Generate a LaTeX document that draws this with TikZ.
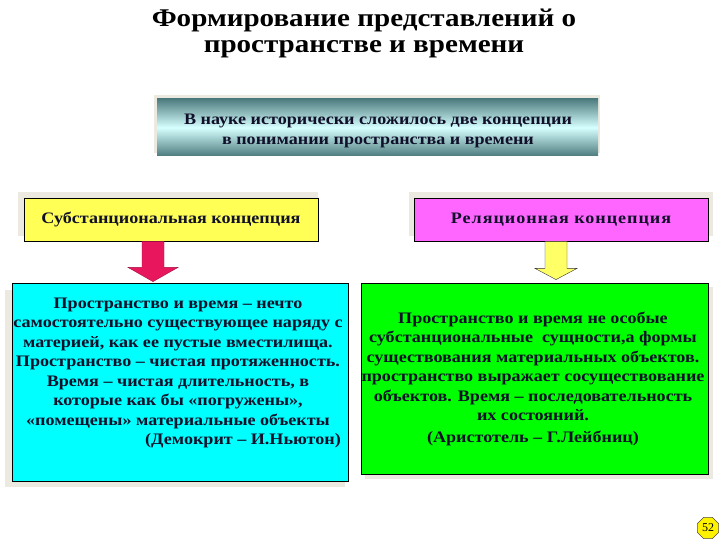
\documentclass[tikz,border=0pt]{standalone}
\usepackage{fontspec}
\setmainfont{Liberation Serif}
\newfontfamily\titlefont[FakeStretch=1.14]{Liberation Serif}
\newfontfamily\bodyfont[FakeStretch=1.13]{Liberation Serif}
\newfontfamily\widefont[FakeStretch=1.13,LetterSpace=6]{Liberation Serif}
\usetikzlibrary{shapes.geometric,calc}
\definecolor{txt}{HTML}{10102A}
\definecolor{shadowc}{HTML}{ECE9E0}
\definecolor{yel}{HTML}{FFFF55}
\definecolor{pinkc}{HTML}{FF66FF}
\definecolor{cyanc}{HTML}{00FFFF}
\definecolor{greenc}{HTML}{00FF00}
\definecolor{redarr}{HTML}{E8175D}
\definecolor{yelarr}{HTML}{FFFF66}
\definecolor{tealdark}{HTML}{4E7C7E}
\definecolor{teallight}{HTML}{D6FFFF}
\tikzset{
  box/.style={draw=black, line width=0.8pt, inner sep=0pt},
  bodytext/.style={font=\bodyfont\bfseries\fontsize{16}{19.5}\selectfont, text=txt, align=center, inner sep=0pt},
  headtext/.style={font=\bodyfont\bfseries\fontsize{16}{19}\selectfont, text=txt, inner sep=0pt},
  titletext/.style={font=\titlefont\bfseries\fontsize{25.5}{25.5}\selectfont, inner sep=0pt},
  blockarrow/.style={line width=0.4pt},
}
\begin{document}
\begin{tikzpicture}[x=1pt,y=-1pt]
\useasboundingbox (0,0) rectangle (720,540);
% title
\node[titletext] (title1) at (364,20.5) {Формирование представлений о};
\node[titletext] (title2) at (364,49.5) {пространстве и времени};
% banner
\fill[shadowc] (154,95) rectangle (600,153);
\shade[top color=tealdark, bottom color=tealdark, middle color=teallight] (157,99) rectangle (598,156);
\node[bodytext] (banner) at (378,131) {В науке исторически сложилось две концепции\\в понимании пространства и времени};
% concept boxes
\fill[shadowc] (18,192) rectangle (318,236);
\fill[shadowc] (409,192) rectangle (713,236);
\node[box, fill=yel, minimum width=294pt, minimum height=43pt] (subst) at (171,219.5) {};
\node[headtext] at (subst.center) {Субстанциональная концепция};
\node[box, fill=pinkc, minimum width=294pt, minimum height=43pt] (rel) at (561,219.5) {};
\node[headtext, font=\widefont\bfseries\fontsize{16}{19}\selectfont] at (rel.center) {Реляционная концепция};
% content boxes
\fill[shadowc] (5,290) rectangle (345,487);
\fill[shadowc] (365,287) rectangle (713,479);
\node[box, fill=cyanc, minimum width=336pt, minimum height=198pt] (subbody) at (180,382) {};
\node[box, fill=greenc, minimum width=347pt, minimum height=191pt] (relbody) at (534.5,378.5) {};
\node[bodytext] (subtext) at (178,363) {Пространство и время – нечто\\самостоятельно существующее наряду с\\материей, как ее пустые вместилища.\\Пространство – чистая протяженность.\\Время – чистая длительность, в\\которые как бы «погружены»,\\«помещены» материальные объекты};
\node[bodytext, anchor=east] (subauth) at (341,441) {(Демокрит – И.Ньютон)};
\node[bodytext] (reltext) at (533,366.5) {Пространство и время не особые\\субстанциональные \ сущности,а формы\\существования материальных объектов.\\пространство выражает сосуществование\\объектов. Время – последовательность\\их состояний.};
\node[bodytext] (relauth) at (533,438) {(Аристотель – Г.Лейбниц)};
% block arrows
\coordinate (a1) at ($(subst.south)+(-18,0)$);
\filldraw[blockarrow, fill=redarr, draw=redarr!70!black]
  ($(a1)+(-11,0)$) -- ($(a1)+(11,0)$) -- ($(a1)+(11,26)$) -- ($(a1)+(25,26)$)
  -- ($(subbody.north -| a1)+(0,-1)$) -- ($(a1)+(-25,26)$) -- ($(a1)+(-11,26)$) -- cycle;
\coordinate (a2) at ($(rel.south)+(-5,0)$);
\filldraw[blockarrow, fill=yelarr, draw=black!80]
  ($(a2)+(-11,0)$) -- ($(a2)+(11,0)$) -- ($(a2)+(11,27)$) -- ($(a2)+(21,27)$)
  -- ($(relbody.north -| a2)+(0,-3)$) -- ($(a2)+(-21,27)$) -- ($(a2)+(-11,27)$) -- cycle;
% page badge
\node[regular polygon, regular polygon sides=8, fill=yellow, draw=black!70, line width=0.5pt, minimum size=23pt, inner sep=0pt, font=\fontsize{12}{12}\selectfont] (badge) at (708,528) {52};
\end{tikzpicture}
\end{document}
